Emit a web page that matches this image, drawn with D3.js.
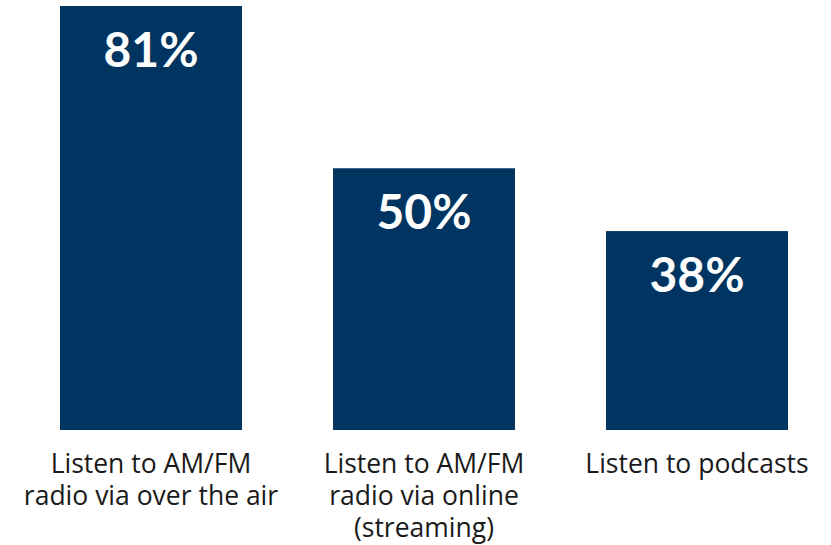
<!DOCTYPE html>
<html>
<head>
<meta charset="utf-8">
<script src="https://cdn.jsdelivr.net/npm/d3@7"></script>
<style>
  html, body { margin: 0; padding: 0; background: #fff; }
  svg { display: block; }
</style>
</head>
<body>
<svg id="chart" width="831" height="545"></svg>
<script>
// Share of listeners by listening mode
const categories = [
  ["Listen to AM/FM", "radio via over the air"],
  ["Listen to AM/FM", "radio via online", "(streaming)"],
  ["Listen to podcasts"]
];
const values = [81, 50, 38];
const valueLabels = ["81%", "50%", "38%"];

const width = 831, height = 545;
const plotLeft = 60, plotRight = 788;
const baseline = 430, plotTop = 6;

const svg = d3.select("#chart");

const x = d3.scaleBand()
  .domain(d3.range(values.length))
  .range([plotLeft, plotRight])
  .paddingInner(1 / 3)
  .paddingOuter(0);

const y = d3.scaleLinear()
  .domain([0, 81])
  .range([baseline, plotTop]);

const valueFont = "'Century Gothic', 'URW Gothic', Lato, sans-serif";
const catFont = "'Century Gothic', 'URW Gothic', 'Open Sans', sans-serif";

svg.selectAll("rect.bar")
  .data(values)
  .join("rect")
  .attr("class", "bar")
  .attr("x", (d, i) => x(i))
  .attr("y", d => y(d))
  .attr("width", x.bandwidth())
  .attr("height", d => baseline - y(d))
  .attr("fill", "#003461");

svg.selectAll("text.value")
  .data(values)
  .join("text")
  .attr("class", "value")
  .attr("x", (d, i) => x(i) + x.bandwidth() / 2)
  .attr("y", d => y(d) + 61)
  .attr("text-anchor", "middle")
  .attr("fill", "#fff")
  .attr("font-family", valueFont)
  .attr("font-weight", "bold")
  .attr("font-size", 48)
  .text((d, i) => valueLabels[i]);

// Category labels, one text element per line
const lineGap = 32;
const catLines = categories.flatMap((lines, i) =>
  lines.map((t, j) => ({ i, j, t })));

svg.selectAll("text.cat")
  .data(catLines)
  .join("text")
  .attr("class", "cat")
  .attr("x", d => x(d.i) + x.bandwidth() / 2)
  .attr("y", d => 473 + d.j * lineGap)
  .attr("text-anchor", "middle")
  .attr("fill", "#1a1a1a")
  .attr("font-family", catFont)
  .attr("font-size", 26.5)
  .text(d => d.t);
</script>
</body>
</html>
